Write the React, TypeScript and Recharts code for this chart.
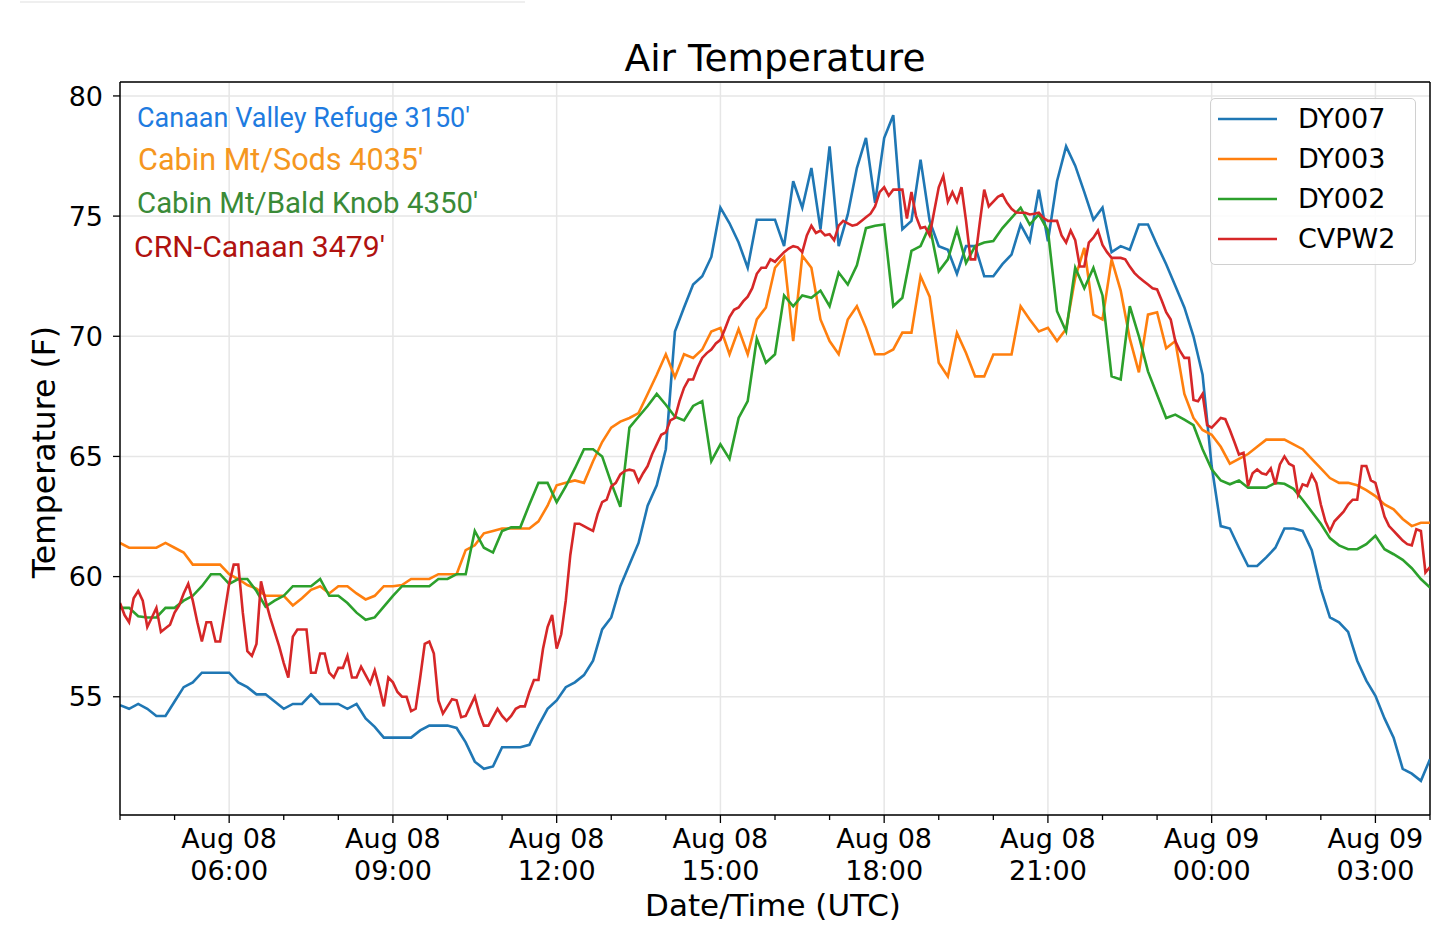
import React from 'react';
import { LineChart, Line, XAxis, YAxis, CartesianGrid, Legend, ReferenceLine } from 'recharts';

// Air temperature (F), Aug 08 04:00 UTC -> Aug 09 04:00 UTC
// DY stations: 10-minute samples; CVPW2: 5-minute samples
const DY007 = [
  54.65, 54.5, 54.7, 54.5, 54.2, 54.2, 54.8, 55.4, 55.6, 56.0, 56.0, 56.0,
  56.0, 55.6, 55.4, 55.1, 55.1, 54.8, 54.5, 54.7, 54.7, 55.1, 54.7, 54.7,
  54.7, 54.5, 54.7, 54.1, 53.75, 53.3, 53.3, 53.3, 53.3, 53.6, 53.8, 53.8,
  53.8, 53.7, 53.1, 52.3, 52.0, 52.1, 52.9, 52.9, 52.9, 53.0, 53.8, 54.5,
  54.85, 55.4, 55.6, 55.9, 56.5, 57.8, 58.3, 59.6, 60.5, 61.4, 62.95, 63.8,
  65.3, 70.2, 71.2, 72.15, 72.5, 73.3, 75.35, 74.7, 73.9, 72.85, 74.85, 74.85,
  74.85, 73.75, 76.45, 75.35, 77.0, 74.45, 77.9, 73.75, 75.07, 77.0, 78.25, 75.55,
  78.25, 79.2, 74.45, 74.8, 77.35, 74.8, 73.75, 73.6, 72.6, 73.75, 73.75, 72.5,
  72.5, 73.0, 73.4, 74.65, 73.95, 76.1, 73.95, 76.45, 77.9, 77.1, 76.0, 74.85,
  75.35, 73.5, 73.75, 73.6, 74.65, 74.65, 73.8, 73.0, 72.1, 71.2, 70.0, 68.4,
  64.6, 62.1, 62.0, 61.2, 60.44, 60.44, 60.8, 61.2, 62.0, 62.0, 61.9, 61.1,
  59.5, 58.3, 58.1, 57.7, 56.5, 55.67, 55.04, 54.1, 53.3, 52.0, 51.8, 51.5,
  52.4,
];

const DY003 = [
  61.4, 61.2, 61.2, 61.2, 61.2, 61.4, 61.2, 61.0, 60.5, 60.5, 60.5, 60.5,
  60.1, 59.9, 59.65, 59.5, 59.2, 59.2, 59.2, 58.8, 59.1, 59.45, 59.6, 59.3,
  59.6, 59.6, 59.3, 59.05, 59.2, 59.6, 59.6, 59.65, 59.9, 59.9, 59.9, 60.1,
  60.1, 60.1, 61.1, 61.3, 61.8, 61.9, 62.0, 62.0, 62.0, 62.0, 62.3, 62.95,
  63.8, 63.9, 64.0, 63.9, 64.8, 65.6, 66.2, 66.45, 66.6, 66.8, 67.6, 68.4,
  69.25, 68.3, 69.25, 69.1, 69.45, 70.2, 70.35, 69.25, 70.3, 69.25, 70.7, 71.2,
  72.85, 73.3, 69.8, 73.35, 72.85, 70.7, 69.8, 69.25, 70.7, 71.25, 70.35, 69.25,
  69.25, 69.45, 70.15, 70.15, 72.5, 71.65, 68.9, 68.33, 70.14, 69.3, 68.33, 68.33,
  69.24, 69.24, 69.24, 71.25, 70.7, 70.2, 70.35, 69.8, 70.3, 72.43, 73.68, 70.9,
  70.7, 73.2, 71.9, 69.9, 68.5, 70.9, 71.0, 69.5, 69.8, 67.6, 66.6, 66.1,
  65.9, 65.4, 64.7, 64.9, 65.1, 65.4, 65.7, 65.7, 65.7, 65.5, 65.3, 64.9,
  64.5, 64.1, 63.9, 63.9, 63.8, 63.6, 63.35, 63.0, 62.8, 62.4, 62.1, 62.24,
  62.24,
];

const DY002 = [
  58.7, 58.7, 58.35, 58.3, 58.3, 58.7, 58.7, 59.0, 59.2, 59.6, 60.1, 60.1,
  59.7, 59.9, 59.9, 59.4, 58.75, 59.0, 59.2, 59.6, 59.6, 59.6, 59.9, 59.2,
  59.2, 58.9, 58.5, 58.2, 58.3, 58.75, 59.2, 59.6, 59.6, 59.6, 59.6, 59.9,
  59.9, 60.1, 60.1, 61.9, 61.2, 61.0, 61.9, 62.05, 62.05, 63.0, 63.9, 63.9,
  63.1, 63.75, 64.5, 65.3, 65.3, 65.0, 63.9, 62.9, 66.2, 66.65, 67.1, 67.6,
  67.15, 66.65, 66.5, 67.1, 67.3, 64.8, 65.5, 64.9, 66.6, 67.3, 69.9, 68.9,
  69.25, 71.7, 71.25, 71.7, 71.6, 71.9, 71.25, 72.65, 72.15, 72.95, 74.5, 74.6,
  74.65, 71.25, 71.6, 73.55, 73.75, 74.6, 72.7, 73.2, 74.45, 73.05, 73.75, 73.9,
  73.96, 74.5, 74.93, 75.35, 74.65, 75.07, 74.4, 71.04, 70.2, 72.85, 72.0, 72.85,
  71.7, 68.33, 68.2, 71.25, 70.0, 68.54, 67.57, 66.6, 66.74, 66.53, 66.3, 65.3,
  64.46, 64.0, 63.84, 64.0, 63.7, 63.7, 63.7, 63.9, 63.86, 63.65, 63.2, 62.7,
  62.2, 61.6, 61.3, 61.14, 61.14, 61.35, 61.7, 61.14, 60.93, 60.7, 60.35, 59.9,
  59.54,
];

const CVPW2 = [
  58.9, 58.4, 58.1, 59.1, 59.4, 59.0, 57.9, 58.3, 58.7, 57.7, 57.85, 58.0,
  58.5, 58.8, 59.3, 59.7, 59.0, 58.1, 57.3, 58.1, 58.1, 57.3, 57.3, 58.5,
  59.7, 60.5, 60.5, 58.5, 56.9, 56.7, 57.2, 59.8, 59.0, 58.3, 57.7, 57.1,
  56.4, 55.8, 57.5, 57.8, 57.8, 57.8, 56.0, 56.0, 56.8, 56.8, 56.0, 55.8,
  56.2, 56.2, 56.7, 55.8, 55.8, 56.25, 55.9, 55.55, 56.1, 55.4, 54.6, 55.8,
  55.6, 55.2, 55.0, 55.0, 54.4, 54.5, 55.8, 57.2, 57.3, 56.8, 54.85, 54.3,
  54.6, 54.9, 54.85, 54.15, 54.2, 54.6, 55.0, 54.3, 53.8, 53.8, 54.15, 54.5,
  54.2, 54.0, 54.2, 54.5, 54.6, 54.6, 55.2, 55.7, 55.7, 57.0, 57.9, 58.4,
  57.0, 57.6, 59.0, 60.9, 62.2, 62.2, 62.1, 62.0, 61.9, 62.6, 63.1, 63.2,
  63.75, 63.9, 64.25, 64.4, 64.45, 64.4, 63.95, 64.3, 64.6, 65.1, 65.5, 65.9,
  66.0, 66.5, 66.6, 67.3, 67.85, 68.2, 68.2, 68.7, 69.1, 69.3, 69.45, 69.7,
  69.85, 70.3, 70.8, 71.1, 71.2, 71.45, 71.65, 72.0, 72.6, 72.85, 72.85, 73.2,
  73.1, 73.3, 73.5, 73.65, 73.75, 73.7, 73.5, 74.2, 74.6, 74.3, 74.4, 74.2,
  74.25, 74.0, 74.6, 74.8, 74.7, 74.6, 74.65, 74.8, 74.95, 75.1, 75.4, 76.0,
  76.2, 75.85, 76.1, 76.1, 76.1, 74.9, 76.0, 75.0, 74.5, 74.55, 74.2, 75.2,
  76.2, 76.67, 75.6, 76.0, 75.6, 76.2, 74.8, 73.2, 73.2, 74.7, 76.1, 75.4,
  75.6, 75.8, 75.9, 75.55, 75.3, 75.15, 75.14, 75.14, 75.07, 75.1, 75.14, 74.93,
  74.8, 74.8, 74.8, 74.2, 73.9, 74.4, 74.0, 72.9, 72.9, 73.9, 74.1, 74.4,
  73.8, 73.5, 73.26, 73.26, 73.26, 73.2, 72.9, 72.64, 72.45, 72.3, 72.15, 72.0,
  71.95, 71.5, 71.0, 70.7, 69.8, 69.4, 69.1, 69.1, 67.35, 67.3, 67.6, 66.3,
  66.2, 66.4, 66.6, 66.55, 66.1, 65.6, 65.08, 65.15, 63.77, 64.3, 64.46, 64.3,
  64.25, 64.5, 63.84, 64.67, 65.0, 64.7, 64.6, 63.4, 63.84, 63.77, 64.25, 63.9,
  63.0, 62.3, 61.9, 62.3, 62.5, 62.7, 63.0, 63.2, 63.2, 64.6, 64.6, 64.0,
  63.9, 63.2, 62.5, 62.1, 61.9, 61.7, 61.5, 61.35, 61.3, 61.97, 61.9, 60.17,
  60.4,
];

// x axis: hours since Aug 08 04:00 UTC
const HOUR_TICKS = [0, 1, 2, 3, 4, 5, 6, 7, 8, 9, 10, 11, 12, 13, 14, 15, 16, 17, 18, 19, 20, 21, 22, 23, 24];
const MAJOR_TICKS = [2, 5, 8, 11, 14, 17, 20, 23];
const MAJOR_TICK_LABELS = [
  ['Aug 08', '06:00'],
  ['Aug 08', '09:00'],
  ['Aug 08', '12:00'],
  ['Aug 08', '15:00'],
  ['Aug 08', '18:00'],
  ['Aug 08', '21:00'],
  ['Aug 09', '00:00'],
  ['Aug 09', '03:00'],
];
const Y_TICKS = [55, 60, 65, 70, 75, 80];
const Y_MIN = 50.08;
const Y_MAX = 80.58;
const X_MAX = 24;

const SERIES_NAMES = ['DY007', 'DY003', 'DY002', 'CVPW2'];
const COLORS = ['#1f77b4', '#ff7f0e', '#2ca02c', '#d62728'];

const STATION_NOTES = [
  { text: "Canaan Valley Refuge 3150'", color: '#1e7be0' },
  { text: "Cabin Mt/Sods 4035'", color: '#f5971f' },
  { text: "Cabin Mt/Bald Knob 4350'", color: '#3a8a37' },
  { text: "CRN-Canaan 3479'", color: '#b0120f' },
];
const NOTE_X = [137, 138, 137, 134];
const NOTE_Y = [127, 170, 213, 256.5];
const NOTE_SIZE = [27, 30.6, 29.4, 30.2];

const dy = (vals: number[]) => vals.map((v, i) => ({ t: i / 6, v }));
const crn = (vals: number[]) => vals.map((v, i) => ({ t: i / 12, v }));

const DEJAVU = '"DejaVu Sans", sans-serif';

const XTick = (props: any) => {
  const { x, y, payload } = props;
  const idx = MAJOR_TICKS.indexOf(payload.value);
  const major = idx >= 0;
  return (
    <g>
      <line x1={x} x2={x} y1={y} y2={y + (major ? 8 : 5)} stroke="#000" strokeWidth={1.3} />
      {major && (
        <text textAnchor="middle" fontFamily={DEJAVU} fontSize={27} fill="#000">
          <tspan x={x} y={y + 33}>{MAJOR_TICK_LABELS[idx][0]}</tspan>
          <tspan x={x} y={y + 65}>{MAJOR_TICK_LABELS[idx][1]}</tspan>
        </text>
      )}
    </g>
  );
};

const LegendBox = (props: any) => {
  const payload = [...(props.payload || [])].sort(
    (a: any, b: any) => SERIES_NAMES.indexOf(a.value) - SERIES_NAMES.indexOf(b.value)
  );
  return (
    <div
      style={{
        width: 206,
        height: 167,
        boxSizing: 'border-box',
        border: '1.3px solid #d0d0d0',
        borderRadius: 5,
        background: 'rgba(255,255,255,0.85)',
      }}
    >
      {payload.map((e: any) => (
        <div key={e.value} style={{ height: 40, display: 'flex', alignItems: 'center' }}>
          <svg width={59} height={6} style={{ marginLeft: 7, display: 'block' }}>
            <line x1={0} x2={59} y1={3} y2={3} stroke={e.color} strokeWidth={2.6} />
          </svg>
          <span style={{ marginLeft: 21, fontFamily: DEJAVU, fontSize: 27, color: '#000', lineHeight: '40px' }}>
            {e.value}
          </span>
        </div>
      ))}
    </div>
  );
};

export default function App() {
  const datasets = [dy(DY007), dy(DY003), dy(DY002), crn(CVPW2)];
  return (
    <div style={{ position: 'relative', width: 1438, height: 949, background: '#fff' }}>
      <style>{'body{margin:0;}'}</style>
      <div style={{ position: 'absolute', left: 20, top: 1, width: 505, height: 2, background: '#efefef' }} />
      <LineChart width={1438} height={949} margin={{ top: 82, right: 8, bottom: 0, left: 0 }}>
        <CartesianGrid stroke="#e6e6e6" strokeWidth={1.5} verticalValues={MAJOR_TICKS} />
        <XAxis
          dataKey="t"
          type="number"
          domain={[0, X_MAX]}
          ticks={HOUR_TICKS}
          interval={0}
          allowDataOverflow
          height={134}
          tickSize={0}
          tickMargin={0}
          tickLine={false}
          tick={<XTick />}
          axisLine={{ stroke: '#000', strokeWidth: 1.5 }}
        />
        <YAxis
          type="number"
          domain={[Y_MIN, Y_MAX]}
          ticks={Y_TICKS}
          interval={0}
          allowDataOverflow
          width={120}
          tickSize={7}
          tickMargin={10}
          tickLine={{ stroke: '#000', strokeWidth: 1.3 }}
          axisLine={{ stroke: '#000', strokeWidth: 1.5 }}
          tick={{ fontFamily: DEJAVU, fontSize: 27, fill: '#000' }}
        />
        <ReferenceLine y={Y_MAX} stroke="#000" strokeWidth={1.5} />
        <ReferenceLine x={X_MAX} stroke="#000" strokeWidth={1.5} />
        {datasets.map((d, i) => (
          <Line
            key={SERIES_NAMES[i]}
            data={d}
            dataKey="v"
            name={SERIES_NAMES[i]}
            type="linear"
            stroke={COLORS[i]}
            strokeWidth={2.6}
            dot={false}
            activeDot={false}
            isAnimationActive={false}
          />
        ))}
        <Legend
          layout="vertical"
          align="center"
          verticalAlign="middle"
          content={<LegendBox />}
          wrapperStyle={{ position: 'absolute', left: 1210, top: 98, width: 206, height: 167 }}
        />
      </LineChart>
      <svg
        width={1438}
        height={949}
        style={{ position: 'absolute', left: 0, top: 0, pointerEvents: 'none' }}
      >
        <text x={775} y={71} textAnchor="middle" fontFamily={DEJAVU} fontSize={37.5} fill="#000">
          Air Temperature
        </text>
        <text x={773} y={916} textAnchor="middle" fontFamily={DEJAVU} fontSize={31} fill="#000">
          Date/Time (UTC)
        </text>
        <text
          x={55}
          y={452}
          textAnchor="middle"
          fontFamily={DEJAVU}
          fontSize={31.5}
          fill="#000"
          transform="rotate(-90 55 452)"
        >
          Temperature (F)
        </text>
        {STATION_NOTES.map((n, i) => (
          <text
            key={n.text}
            x={NOTE_X[i]}
            y={NOTE_Y[i]}
            fontFamily="Roboto, sans-serif"
            fontSize={NOTE_SIZE[i]}
            fill={n.color}
          >
            {n.text}
          </text>
        ))}
      </svg>
    </div>
  );
}
